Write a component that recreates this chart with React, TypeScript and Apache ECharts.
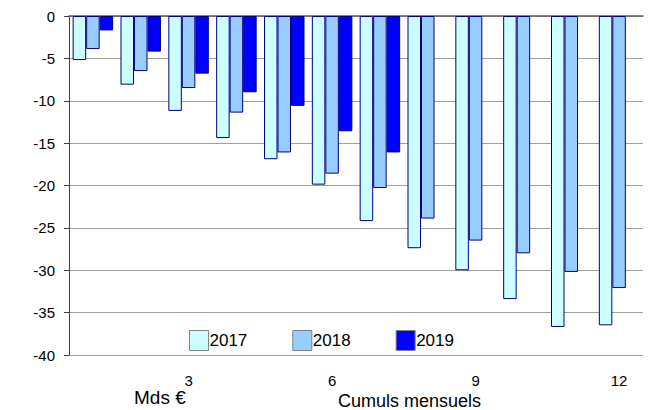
import React, { useEffect, useRef } from "react";
import * as echarts from "echarts";

const months = ["1", "2", "3", "4", "5", "6", "7", "8", "9", "10", "11", "12"];
const v2017 = [-5.2, -8.1, -11.2, -14.4, -16.9, -19.9, -24.2, -27.4, -30.0, -33.4, -36.7, -36.5];
const v2018 = [-3.9, -6.5, -8.5, -11.4, -16.1, -18.6, -20.3, -23.9, -26.5, -28.0, -30.2, -32.1];
const v2019 = [-1.7, -4.2, -6.8, -9.0, -10.6, -13.6, -16.1, null, null, null, null, null];
const yearNames = ["2017", "2018", "2019"];
const colors = ["#CCFFFF", "#99CCFF", "#0000FF"];

const FONT = "'Liberation Sans', Arial, sans-serif";

export default function App() {
  const ref = useRef<HTMLDivElement>(null);
  useEffect(() => {
    if (!ref.current) return;
    const chart = echarts.init(ref.current, null, { renderer: "svg" });
    const seriesData = [v2017, v2018, v2019];
    chart.setOption({
      animation: false,
      textStyle: { fontFamily: FONT },
      grid: { left: 69, right: 8, top: 16, bottom: 55, containLabel: false },
      legend: {
        data: yearNames,
        top: 330,
        left: 189,
        padding: 0,
        icon: "rect",
        itemWidth: 19,
        itemHeight: 20,
        itemGap: 45,
        itemStyle: { borderColor: "#808080", borderWidth: 1 },
        textStyle: { fontSize: 17, color: "#000", fontFamily: FONT, padding: [2, 0, 0, -4] },
      },
      xAxis: [
        {
          type: "category",
          data: months,
          position: "bottom",
          axisLine: { show: false, onZero: false },
          axisTick: { show: false },
          axisLabel: {
            interval: (i: number) => (i + 1) % 3 === 0,
            fontSize: 15,
            color: "#000",
            margin: 18,
            fontFamily: FONT,
          },
          splitLine: { show: false },
        },
        {
          type: "category",
          data: months,
          position: "top",
          axisLine: { show: true, onZero: false, lineStyle: { color: "#606060", width: 1.5 } },
          axisTick: { show: false },
          axisLabel: { show: false },
        },
      ],
      yAxis: {
        type: "value",
        min: -40,
        max: 0,
        interval: 5,
        axisLine: { show: true, lineStyle: { color: "#404040" } },
        axisTick: { show: true, length: 5, lineStyle: { color: "#404040" } },
        axisLabel: { fontSize: 15, color: "#000", margin: 14, fontFamily: FONT },
        splitLine: { show: true, lineStyle: { color: "#a0a0a0" } },
      },
      series: yearNames.map((name, k) => ({
        name,
        type: "bar",
        data: seriesData[k],
        barWidth: 13.5,
        barGap: "0%",
        itemStyle: { color: colors[k], borderColor: "#000080", borderWidth: 1 },
      })),
      graphic: [
        {
          type: "text",
          x: 134,
          y: 397.5,
          style: { text: "Mds €", fontSize: 19, fill: "#000", fontFamily: FONT, verticalAlign: "middle" },
        },
        {
          type: "text",
          x: 338,
          y: 401,
          style: { text: "Cumuls mensuels", fontSize: 18, fill: "#000", fontFamily: FONT, verticalAlign: "middle" },
        },
      ],
    });
    return () => chart.dispose();
  }, []);
  return <div ref={ref} style={{ width: 651, height: 410, position: "absolute", left: 0, top: 0 }} />;
}
